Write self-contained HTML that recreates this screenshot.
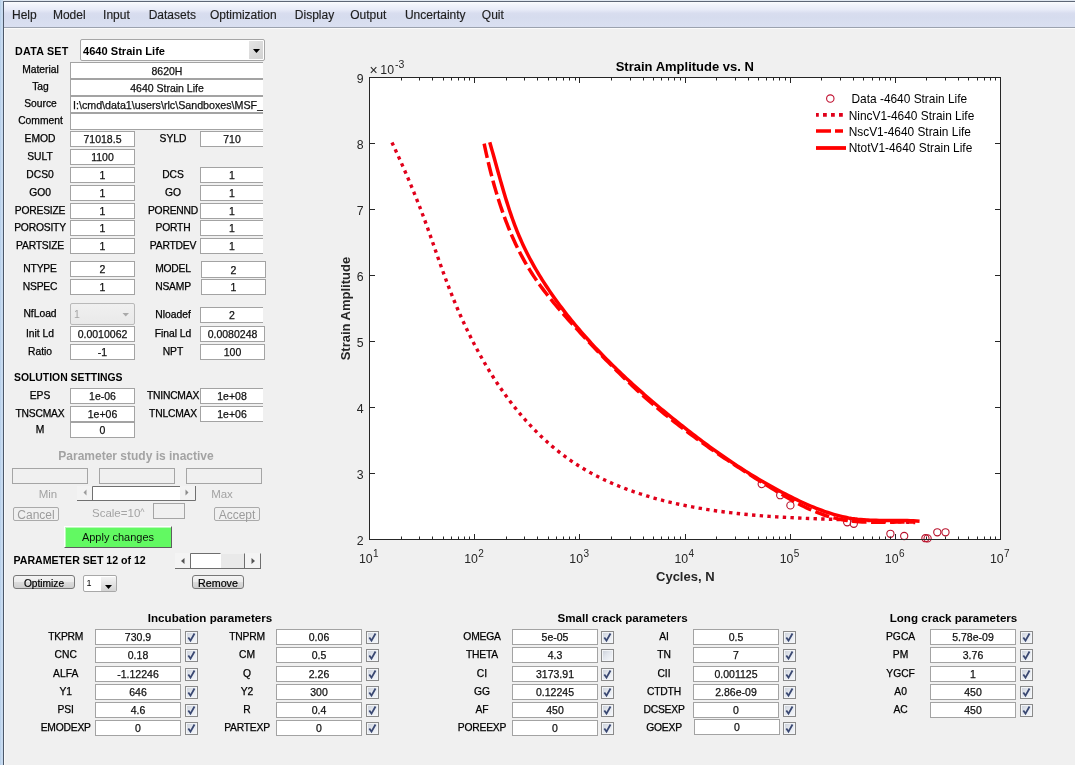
<!DOCTYPE html>
<html><head><meta charset="utf-8"><title>MSF</title>
<style>
*{margin:0;padding:0;box-sizing:border-box}
html,body{width:1075px;height:765px;overflow:hidden;background:#f0f0f0;font-family:"Liberation Sans", Arial, sans-serif;color:#000}
.ab{position:absolute}
.lb{position:absolute;text-align:center;white-space:nowrap;-webkit-text-stroke:0.25px #000}
.ed{position:absolute;background:#fff;border:1px solid #a3a3a3;white-space:nowrap;overflow:hidden;color:#111;-webkit-text-stroke:0.25px #111}
.cb{position:absolute;width:13px;height:13px;border:1px solid #8a8a8a;background:linear-gradient(135deg,#c9ced7 0%,#e3e7ee 45%,#f6f8fb 100%);box-shadow:inset 0 0 0 1px #f3f5f8}
.btn{position:absolute;border:1px solid #777;border-radius:3px;background:linear-gradient(#f4f4f4 0%,#ececec 48%,#dcdcdc 52%,#cfcfcf 100%);text-align:center;white-space:nowrap}
.gbox{position:absolute;border:1px solid #a5a5a5;background:#f0f0f0}
.gt{position:absolute;white-space:nowrap;color:#a3a3a3}
</style></head>
<body>
<svg class="ab" style="left:0;top:0" width="1075" height="765" font-family='"Liberation Sans", Arial, sans-serif'>
<rect x="369.5" y="77.5" width="631" height="462" fill="#fff"/>
<circle cx="761.7" cy="484.1" r="3.6" fill="none" stroke="#b8102a" stroke-width="1.1"/>
<circle cx="780.2" cy="495.2" r="3.6" fill="none" stroke="#b8102a" stroke-width="1.1"/>
<circle cx="790.4" cy="505.4" r="3.6" fill="none" stroke="#b8102a" stroke-width="1.1"/>
<circle cx="847.2" cy="522.3" r="3.6" fill="none" stroke="#b8102a" stroke-width="1.1"/>
<circle cx="853.8" cy="523.8" r="3.6" fill="none" stroke="#b8102a" stroke-width="1.1"/>
<circle cx="890.4" cy="533.8" r="3.6" fill="none" stroke="#b8102a" stroke-width="1.1"/>
<circle cx="904.2" cy="536.0" r="3.6" fill="none" stroke="#b8102a" stroke-width="1.1"/>
<circle cx="925.4" cy="538.2" r="3.6" fill="none" stroke="#b8102a" stroke-width="1.1"/>
<circle cx="927.6" cy="538.4" r="3.6" fill="none" stroke="#b8102a" stroke-width="1.1"/>
<circle cx="937.3" cy="532.3" r="3.6" fill="none" stroke="#b8102a" stroke-width="1.1"/>
<circle cx="945.5" cy="532.3" r="3.6" fill="none" stroke="#b8102a" stroke-width="1.1"/>
<g clip-path="url(#axclip)">
<clipPath id="axclip"><rect x="369" y="77" width="632" height="463"/></clipPath>
<path d="M391.96 142.41 L393.51 145.75 L395.06 149.09 L396.59 152.43 L398.12 155.78 L399.64 159.13 L401.14 162.49 L402.63 165.85 L404.12 169.21 L405.58 172.58 L407.04 175.96 L408.49 179.33 L409.92 182.71 L411.33 186.09 L412.73 189.47 L414.12 192.86 L415.49 196.24 L416.85 199.63 L418.19 203.02 L419.52 206.41 L420.83 209.80 L422.12 213.19 L423.39 216.58 L424.65 219.96 L425.89 223.35 L427.12 226.74 L428.33 230.13 L429.54 233.52 L430.74 236.91 L431.93 240.29 L433.11 243.68 L434.30 247.07 L435.48 250.46 L436.67 253.84 L437.85 257.23 L439.04 260.62 L440.24 264.01 L441.45 267.39 L442.67 270.78 L443.89 274.17 L445.14 277.55 L446.39 280.94 L447.67 284.33 L448.96 287.71 L450.28 291.10 L451.62 294.49 L452.98 297.87 L454.36 301.26 L455.77 304.64 L457.20 308.02 L458.66 311.39 L460.13 314.76 L461.64 318.13 L463.16 321.48 L464.72 324.83 L466.29 328.18 L467.89 331.51 L469.52 334.83 L471.17 338.15 L472.84 341.45 L474.55 344.74 L476.27 348.01 L478.03 351.27 L479.81 354.52 L481.61 357.75 L483.44 360.97 L485.30 364.17 L487.19 367.35 L489.10 370.51 L491.04 373.66 L493.01 376.78 L495.00 379.88 L497.02 382.96 L499.07 386.02 L501.15 389.05 L503.26 392.06 L505.39 395.04 L507.55 398.00 L509.75 400.93 L511.97 403.83 L514.22 406.71 L516.50 409.55 L518.81 412.37 L521.15 415.15 L523.52 417.90 L525.91 420.62 L528.34 423.31 L530.80 425.96 L533.29 428.58 L535.82 431.16 L538.37 433.71 L540.95 436.22 L543.57 438.69 L546.21 441.12 L548.89 443.51 L551.60 445.86 L554.34 448.17 L557.12 450.43 L559.92 452.66 L562.76 454.83 L565.64 456.97 L568.54 459.06 L571.48 461.10 L574.45 463.10 L577.46 465.04 L580.50 466.94 L583.57 468.80 L586.67 470.61 L589.80 472.37 L592.96 474.09 L596.15 475.76 L599.36 477.39 L602.61 478.98 L605.88 480.52 L609.17 482.02 L612.49 483.48 L615.83 484.90 L619.19 486.28 L622.58 487.63 L625.98 488.93 L629.41 490.19 L632.85 491.42 L636.32 492.61 L639.80 493.76 L643.29 494.88 L646.81 495.97 L650.33 497.02 L653.87 498.03 L657.43 499.01 L660.99 499.96 L664.57 500.88 L668.16 501.77 L671.75 502.62 L675.36 503.45 L678.97 504.24 L682.59 505.01 L686.22 505.75 L689.85 506.46 L693.49 507.14 L697.13 507.80 L700.77 508.43 L704.41 509.04 L708.06 509.62 L711.70 510.18 L715.35 510.71 L718.99 511.23 L722.63 511.72 L726.27 512.19 L729.90 512.63 L733.53 513.06 L737.16 513.47 L740.78 513.86 L744.40 514.23 L748.02 514.58 L751.63 514.92 L755.24 515.24 L758.85 515.54 L762.46 515.83 L766.07 516.10 L769.67 516.36 L773.27 516.61 L776.88 516.84 L780.48 517.07 L784.08 517.28 L787.68 517.48 L791.28 517.67 L794.88 517.85 L798.48 518.02 L802.08 518.18 L805.68 518.34 L809.29 518.49 L812.89 518.63 L816.50 518.77 L820.11 518.90 L823.72 519.03 L827.33 519.15 L830.94 519.27 L834.56 519.39 L838.18 519.51 L841.80 519.62 L845.43 519.74 L849.06 519.85 L852.69 519.97 L856.33 520.09 L859.97 520.20 L863.62 520.33 L867.27 520.45 L870.93 520.58 L874.59 520.71 L878.26 520.85 L881.93 521.00 L885.61 521.15 L889.29 521.30 L892.98 521.47 L896.68 521.64 L900.39 521.83 L904.10 522.02 L907.82 522.22 L911.54 522.43 L915.28 522.66" fill="none" stroke="#e0001a" stroke-width="3.4" stroke-dasharray="3.4 4.3"/>
<path d="M484.15 143.66 L484.77 146.62 L485.41 149.59 L486.06 152.56 L486.73 155.54 L487.41 158.52 L488.10 161.50 L488.81 164.49 L489.54 167.48 L490.28 170.47 L491.04 173.46 L491.82 176.45 L492.61 179.44 L493.42 182.42 L494.25 185.41 L495.10 188.39 L495.97 191.37 L496.85 194.35 L497.76 197.32 L498.69 200.28 L499.64 203.24 L500.62 206.19 L501.61 209.14 L502.63 212.07 L503.67 215.00 L504.74 217.92 L505.83 220.83 L506.94 223.72 L508.08 226.61 L509.25 229.48 L510.44 232.34 L511.66 235.19 L512.91 238.03 L514.18 240.84 L515.49 243.65 L516.82 246.44 L518.18 249.21 L519.57 251.96 L520.99 254.70 L522.44 257.41 L523.93 260.11 L525.44 262.79 L526.99 265.44 L528.57 268.08 L530.18 270.69 L531.82 273.28 L533.50 275.85 L535.21 278.40 L536.95 280.93 L538.72 283.44 L540.51 285.93 L542.34 288.40 L544.18 290.85 L546.06 293.29 L547.95 295.71 L549.87 298.12 L551.81 300.51 L553.76 302.89 L555.74 305.25 L557.73 307.61 L559.74 309.95 L561.76 312.28 L563.80 314.61 L565.85 316.92 L567.91 319.23 L569.99 321.53 L572.07 323.82 L574.16 326.10 L576.25 328.39 L578.35 330.66 L580.46 332.94 L582.57 335.21 L584.68 337.47 L586.80 339.74 L588.92 342.00 L591.04 344.25 L593.17 346.51 L595.30 348.75 L597.43 351.00 L599.58 353.23 L601.72 355.47 L603.87 357.69 L606.03 359.91 L608.20 362.12 L610.37 364.33 L612.54 366.53 L614.73 368.72 L616.92 370.90 L619.11 373.08 L621.32 375.24 L623.53 377.40 L625.75 379.54 L627.98 381.68 L630.22 383.81 L632.47 385.93 L634.72 388.03 L636.99 390.13 L639.26 392.21 L641.54 394.28 L643.84 396.34 L646.14 398.38 L648.46 400.42 L650.78 402.44 L653.12 404.45 L655.46 406.45 L657.82 408.43 L660.18 410.41 L662.55 412.37 L664.94 414.32 L667.33 416.26 L669.73 418.19 L672.14 420.11 L674.56 422.02 L676.98 423.91 L679.42 425.80 L681.86 427.68 L684.31 429.55 L686.77 431.40 L689.24 433.25 L691.71 435.09 L694.20 436.91 L696.69 438.73 L699.19 440.54 L701.69 442.34 L704.20 444.14 L706.72 445.92 L709.25 447.70 L711.78 449.46 L714.32 451.22 L716.86 452.97 L719.41 454.72 L721.97 456.45 L724.54 458.18 L727.11 459.90 L729.68 461.62 L732.26 463.32 L734.85 465.02 L737.44 466.72 L740.04 468.40 L742.64 470.08 L745.24 471.76 L747.85 473.43 L750.47 475.09 L753.09 476.75 L755.72 478.40 L758.34 480.04 L760.98 481.69 L763.61 483.32 L766.25 484.95 L768.90 486.58 L771.55 488.20 L774.20 489.82 L776.85 491.43 L779.51 493.03 L782.18 494.61 L784.85 496.19 L787.53 497.74 L790.22 499.27 L792.92 500.77 L795.63 502.24 L798.34 503.69 L801.07 505.10 L803.82 506.47 L806.57 507.80 L809.34 509.09 L812.13 510.33 L814.93 511.52 L817.74 512.65 L820.58 513.73 L823.43 514.75 L826.30 515.71 L829.19 516.60 L832.10 517.42 L835.03 518.17 L837.98 518.85 L840.95 519.45 L843.94 519.98 L846.95 520.45 L849.98 520.85 L853.02 521.19 L856.07 521.48 L859.14 521.72 L862.22 521.91 L865.31 522.06 L868.41 522.18 L871.52 522.25 L874.63 522.30 L877.75 522.32 L880.87 522.32 L883.99 522.30 L887.12 522.26 L890.24 522.21 L893.36 522.16 L896.48 522.10 L899.59 522.05 L902.70 522.00 L905.80 521.95 L908.89 521.93 L911.97 521.91 L915.04 521.92" fill="none" stroke="#f00" stroke-width="3.5" stroke-dasharray="14.5 4.5"/>
<path d="M489.74 142.31 L490.60 145.25 L491.44 148.19 L492.28 151.14 L493.12 154.10 L493.95 157.06 L494.78 160.02 L495.60 162.99 L496.43 165.96 L497.25 168.94 L498.08 171.91 L498.91 174.89 L499.74 177.87 L500.58 180.85 L501.43 183.82 L502.28 186.80 L503.14 189.77 L504.02 192.74 L504.91 195.71 L505.81 198.67 L506.72 201.63 L507.65 204.58 L508.60 207.53 L509.57 210.46 L510.55 213.40 L511.56 216.32 L512.59 219.23 L513.64 222.13 L514.72 225.03 L515.82 227.91 L516.95 230.78 L518.11 233.64 L519.30 236.48 L520.53 239.31 L521.78 242.13 L523.06 244.93 L524.38 247.72 L525.73 250.49 L527.10 253.25 L528.51 255.99 L529.94 258.72 L531.40 261.44 L532.89 264.14 L534.41 266.83 L535.95 269.50 L537.52 272.16 L539.11 274.81 L540.72 277.44 L542.36 280.06 L544.02 282.66 L545.71 285.25 L547.41 287.82 L549.14 290.38 L550.88 292.93 L552.65 295.46 L554.43 297.98 L556.24 300.49 L558.06 302.98 L559.90 305.46 L561.75 307.92 L563.62 310.37 L565.51 312.81 L567.41 315.23 L569.33 317.64 L571.26 320.04 L573.21 322.42 L575.17 324.79 L577.15 327.15 L579.14 329.50 L581.14 331.83 L583.16 334.15 L585.20 336.46 L587.24 338.76 L589.30 341.04 L591.38 343.31 L593.46 345.58 L595.56 347.83 L597.67 350.06 L599.80 352.29 L601.93 354.51 L604.08 356.71 L606.24 358.91 L608.41 361.09 L610.59 363.27 L612.78 365.43 L614.99 367.58 L617.20 369.73 L619.43 371.86 L621.66 373.98 L623.91 376.10 L626.16 378.20 L628.42 380.30 L630.70 382.39 L632.98 384.46 L635.27 386.53 L637.57 388.59 L639.88 390.64 L642.20 392.68 L644.53 394.72 L646.86 396.74 L649.20 398.76 L651.55 400.77 L653.91 402.77 L656.27 404.77 L658.64 406.76 L661.02 408.73 L663.40 410.71 L665.79 412.67 L668.19 414.63 L670.59 416.58 L673.00 418.53 L675.41 420.47 L677.83 422.40 L680.25 424.32 L682.68 426.24 L685.12 428.15 L687.56 430.06 L690.00 431.95 L692.46 433.84 L694.92 435.72 L697.38 437.59 L699.85 439.45 L702.33 441.30 L704.81 443.14 L707.31 444.98 L709.80 446.80 L712.31 448.61 L714.82 450.41 L717.34 452.20 L719.86 453.99 L722.39 455.75 L724.93 457.51 L727.48 459.26 L730.03 460.99 L732.60 462.71 L735.16 464.42 L737.74 466.12 L740.33 467.80 L742.92 469.47 L745.52 471.12 L748.13 472.76 L750.75 474.39 L753.37 476.00 L756.01 477.60 L758.65 479.19 L761.30 480.75 L763.96 482.31 L766.63 483.84 L769.30 485.36 L771.99 486.87 L774.68 488.36 L777.39 489.83 L780.10 491.28 L782.83 492.72 L785.56 494.14 L788.30 495.54 L791.05 496.92 L793.81 498.28 L796.58 499.63 L799.36 500.96 L802.16 502.26 L804.96 503.53 L807.77 504.78 L810.60 506.00 L813.43 507.18 L816.28 508.33 L819.14 509.44 L822.01 510.51 L824.90 511.54 L827.80 512.52 L830.71 513.45 L833.64 514.33 L836.58 515.16 L839.54 515.93 L842.51 516.64 L845.49 517.29 L848.49 517.88 L851.51 518.40 L854.54 518.85 L857.59 519.23 L860.65 519.54 L863.73 519.80 L866.82 520.01 L869.92 520.16 L873.02 520.28 L876.13 520.36 L879.25 520.41 L882.37 520.44 L885.50 520.46 L888.62 520.46 L891.75 520.45 L894.87 520.45 L897.99 520.45 L901.10 520.47 L904.20 520.50 L907.30 520.56 L910.38 520.64 L913.46 520.77 L916.52 520.93 L919.56 521.15" fill="none" stroke="#f00" stroke-width="3.5"/>
</g>
<path d="M369.5 539 v-5 M369.5 78 v5 M401.5 539 v-2.5 M401.5 78 v2.5 M419.5 539 v-2.5 M419.5 78 v2.5 M432.5 539 v-2.5 M432.5 78 v2.5 M443.5 539 v-2.5 M443.5 78 v2.5 M451.5 539 v-2.5 M451.5 78 v2.5 M458.5 539 v-2.5 M458.5 78 v2.5 M464.5 539 v-2.5 M464.5 78 v2.5 M469.5 539 v-2.5 M469.5 78 v2.5 M474.5 539 v-5 M474.5 78 v5 M506.5 539 v-2.5 M506.5 78 v2.5 M524.5 539 v-2.5 M524.5 78 v2.5 M537.5 539 v-2.5 M537.5 78 v2.5 M548.5 539 v-2.5 M548.5 78 v2.5 M556.5 539 v-2.5 M556.5 78 v2.5 M563.5 539 v-2.5 M563.5 78 v2.5 M569.5 539 v-2.5 M569.5 78 v2.5 M575.5 539 v-2.5 M575.5 78 v2.5 M579.5 539 v-5 M579.5 78 v5 M611.5 539 v-2.5 M611.5 78 v2.5 M630.5 539 v-2.5 M630.5 78 v2.5 M643.5 539 v-2.5 M643.5 78 v2.5 M653.5 539 v-2.5 M653.5 78 v2.5 M661.5 539 v-2.5 M661.5 78 v2.5 M668.5 539 v-2.5 M668.5 78 v2.5 M674.5 539 v-2.5 M674.5 78 v2.5 M680.5 539 v-2.5 M680.5 78 v2.5 M685.5 539 v-5 M685.5 78 v5 M716.5 539 v-2.5 M716.5 78 v2.5 M735.5 539 v-2.5 M735.5 78 v2.5 M748.5 539 v-2.5 M748.5 78 v2.5 M758.5 539 v-2.5 M758.5 78 v2.5 M766.5 539 v-2.5 M766.5 78 v2.5 M773.5 539 v-2.5 M773.5 78 v2.5 M779.5 539 v-2.5 M779.5 78 v2.5 M785.5 539 v-2.5 M785.5 78 v2.5 M790.5 539 v-5 M790.5 78 v5 M821.5 539 v-2.5 M821.5 78 v2.5 M840.5 539 v-2.5 M840.5 78 v2.5 M853.5 539 v-2.5 M853.5 78 v2.5 M863.5 539 v-2.5 M863.5 78 v2.5 M872.5 539 v-2.5 M872.5 78 v2.5 M879.5 539 v-2.5 M879.5 78 v2.5 M885.5 539 v-2.5 M885.5 78 v2.5 M890.5 539 v-2.5 M890.5 78 v2.5 M895.5 539 v-5 M895.5 78 v5 M926.5 539 v-2.5 M926.5 78 v2.5 M945.5 539 v-2.5 M945.5 78 v2.5 M958.5 539 v-2.5 M958.5 78 v2.5 M968.5 539 v-2.5 M968.5 78 v2.5 M977.5 539 v-2.5 M977.5 78 v2.5 M984.5 539 v-2.5 M984.5 78 v2.5 M990.5 539 v-2.5 M990.5 78 v2.5 M995.5 539 v-2.5 M995.5 78 v2.5 M1000.5 539 v-5 M1000.5 78 v5 M370 539.5 h5 M1000 539.5 h-5 M370 473.5 h5 M1000 473.5 h-5 M370 407.5 h5 M1000 407.5 h-5 M370 341.5 h5 M1000 341.5 h-5 M370 275.5 h5 M1000 275.5 h-5 M370 209.5 h5 M1000 209.5 h-5 M370 143.5 h5 M1000 143.5 h-5 M370 77.5 h5 M1000 77.5 h-5" stroke="#262626" stroke-width="1" fill="none"/>
<rect x="369.5" y="77.5" width="631" height="462" fill="none" stroke="#262626" stroke-width="1"/>
<text x="363.5" y="544.8" font-size="12.3" fill="#262626" text-anchor="end">2</text>
<text x="363.5" y="478.8" font-size="12.3" fill="#262626" text-anchor="end">3</text>
<text x="363.5" y="412.8" font-size="12.3" fill="#262626" text-anchor="end">4</text>
<text x="363.5" y="346.8" font-size="12.3" fill="#262626" text-anchor="end">5</text>
<text x="363.5" y="280.8" font-size="12.3" fill="#262626" text-anchor="end">6</text>
<text x="363.5" y="214.8" font-size="12.3" fill="#262626" text-anchor="end">7</text>
<text x="363.5" y="148.8" font-size="12.3" fill="#262626" text-anchor="end">8</text>
<text x="363.5" y="82.8" font-size="12.3" fill="#262626" text-anchor="end">9</text>
<text x="359.0" y="562.6" font-size="12.3" fill="#262626">10<tspan dy="-6.0" dx="0.4" font-size="10">1</tspan></text>
<text x="464.2" y="562.6" font-size="12.3" fill="#262626">10<tspan dy="-6.0" dx="0.4" font-size="10">2</tspan></text>
<text x="569.3" y="562.6" font-size="12.3" fill="#262626">10<tspan dy="-6.0" dx="0.4" font-size="10">3</tspan></text>
<text x="674.5" y="562.6" font-size="12.3" fill="#262626">10<tspan dy="-6.0" dx="0.4" font-size="10">4</tspan></text>
<text x="779.7" y="562.6" font-size="12.3" fill="#262626">10<tspan dy="-6.0" dx="0.4" font-size="10">5</tspan></text>
<text x="884.8" y="562.6" font-size="12.3" fill="#262626">10<tspan dy="-6.0" dx="0.4" font-size="10">6</tspan></text>
<text x="990.0" y="562.6" font-size="12.3" fill="#262626">10<tspan dy="-6.0" dx="0.4" font-size="10">7</tspan></text>
<text x="369.6" y="75.2" font-size="14" fill="#262626">&#215;</text>
<text x="380.3" y="74.4" font-size="12.3" fill="#262626">10</text>
<text x="395" y="68.2" font-size="10.5" fill="#262626">-3</text>
<text x="684.8" y="71" font-size="13" font-weight="bold" fill="#000" text-anchor="middle">Strain Amplitude vs. N</text>
<text x="685.3" y="581.4" font-size="13" font-weight="bold" fill="#262626" text-anchor="middle">Cycles, N</text>
<text transform="translate(349.6 308.6) rotate(-90)" x="0" y="0" font-size="13" font-weight="bold" fill="#262626" text-anchor="middle">Strain Amplitude</text>
<circle cx="830.3" cy="98.6" r="3.7" fill="none" stroke="#c01030" stroke-width="1.1"/>
<path d="M816 114.9 H844" stroke="#e0001a" stroke-width="3.6" stroke-dasharray="3.8 4.2" stroke-dashoffset="1" fill="none"/>
<path d="M816 131 H843" stroke="#f00" stroke-width="3.6" stroke-dasharray="15 4" fill="none"/>
<path d="M816 148 H846" stroke="#f00" stroke-width="3.8" fill="none"/>
<text x="848.7" y="119.6" font-size="11.9" fill="#000">NincV1-4640 Strain Life</text>
<text x="848.7" y="136.0" font-size="11.9" fill="#000">NscV1-4640 Strain Life</text>
<text x="848.7" y="152.4" font-size="11.9" fill="#000">NtotV1-4640 Strain Life</text>
<text x="851.5" y="102.8" font-size="11.9" fill="#000">Data -4640 Strain Life</text>
</svg>
<div class="ab" style="left:0;top:0;width:3px;height:765px;background:linear-gradient(90deg,#b4cde8,#cfe0f3 70%,#bcd3ec)"></div>
<div class="ab" style="left:3px;top:0;width:1px;height:765px;background:#4d5868"></div>
<div class="ab" style="left:4px;top:28px;width:1px;height:737px;background:#f9f9f9"></div>
<div class="ab" style="left:3px;top:0;width:1072px;height:1px;background:#dfe6ef"></div>
<div class="ab" style="left:3px;top:1px;width:1072px;height:1px;background:#5d6676"></div>
<div class="ab" style="left:4px;top:2px;width:1071px;height:25px;background:linear-gradient(#fbfcfe 0%,#f1f3fb 12%,#e8ebf8 30%,#d8ddef 45%,#d6dcee 60%,#dae0f1 100%)"></div>
<div class="ab" style="left:4px;top:27px;width:1071px;height:1px;background:#9ba2ae"></div>
<div class="ab" style="left:4px;top:28px;width:1071px;height:1px;background:#fbfbfb"></div>
<div class="ab" style="left:12.0px;top:6px;font-size:12px;line-height:18px;color:#1e1e1e;white-space:nowrap;-webkit-text-stroke:0.15px #1e1e1e">Help</div>
<div class="ab" style="left:52.9px;top:6px;font-size:12px;line-height:18px;color:#1e1e1e;white-space:nowrap;-webkit-text-stroke:0.15px #1e1e1e">Model</div>
<div class="ab" style="left:103.1px;top:6px;font-size:12px;line-height:18px;color:#1e1e1e;white-space:nowrap;-webkit-text-stroke:0.15px #1e1e1e">Input</div>
<div class="ab" style="left:148.7px;top:6px;font-size:12px;line-height:18px;color:#1e1e1e;white-space:nowrap;-webkit-text-stroke:0.15px #1e1e1e">Datasets</div>
<div class="ab" style="left:209.9px;top:6px;font-size:12px;line-height:18px;color:#1e1e1e;white-space:nowrap;-webkit-text-stroke:0.15px #1e1e1e">Optimization</div>
<div class="ab" style="left:294.8px;top:6px;font-size:12px;line-height:18px;color:#1e1e1e;white-space:nowrap;-webkit-text-stroke:0.15px #1e1e1e">Display</div>
<div class="ab" style="left:350.2px;top:6px;font-size:12px;line-height:18px;color:#1e1e1e;white-space:nowrap;-webkit-text-stroke:0.15px #1e1e1e">Output</div>
<div class="ab" style="left:404.9px;top:6px;font-size:12px;line-height:18px;color:#1e1e1e;white-space:nowrap;-webkit-text-stroke:0.15px #1e1e1e">Uncertainty</div>
<div class="ab" style="left:481.8px;top:6px;font-size:12px;line-height:18px;color:#1e1e1e;white-space:nowrap;-webkit-text-stroke:0.15px #1e1e1e">Quit</div>
<div class="ab" style="left:15px;top:44px;font-size:10.7px;font-weight:bold;line-height:14px;white-space:nowrap;letter-spacing:0.25px">DATA SET</div>
<div class="ab" style="left:80px;top:39px;width:185px;height:22px;border:1px solid #a6a6a6;border-radius:2px;background:#fff"></div>
<div class="ab" style="left:249px;top:41px;width:14px;height:18px;background:linear-gradient(135deg,#e4e4e4,#d2d2d2)"></div>
<svg class="ab" style="left:249px;top:41px" width="14" height="18"><path d="M4 8 L11 8 L7.5 12 Z" fill="#000"/></svg>
<div class="ab" style="left:83px;top:43.7px;font-size:11.1px;font-weight:bold;line-height:14px;white-space:nowrap">4640 Strain Life</div>
<div class="lb" style="left:-4.5px;top:61.5px;width:90px;height:16px;line-height:16px;font-size:10.3px;font-weight:normal;color:#000;">Material</div>
<div class="ed" style="left:70px;top:62px;width:193px;height:17px;line-height:16.2px;font-size:10.5px;text-align:center;border-right:none;">8620H</div>
<div class="lb" style="left:-4.5px;top:78.5px;width:90px;height:16px;line-height:16px;font-size:10.3px;font-weight:normal;color:#000;">Tag</div>
<div class="ed" style="left:70px;top:79px;width:193px;height:17px;line-height:16.2px;font-size:10.5px;text-align:center;border-right:none;">4640 Strain Life</div>
<div class="lb" style="left:-4.5px;top:95.5px;width:90px;height:16px;line-height:16px;font-size:10.3px;font-weight:normal;color:#000;">Source</div>
<div class="ed" style="left:70px;top:96px;width:193px;height:17px;line-height:16.2px;font-size:10.7px;text-align:left;border-right:none;padding-left:2px;">I:\cmd\data1\users\rlc\Sandboxes\MSF_</div>
<div class="lb" style="left:-4.5px;top:112.5px;width:90px;height:16px;line-height:16px;font-size:10.3px;font-weight:normal;color:#000;">Comment</div>
<div class="ed" style="left:70px;top:113px;width:193px;height:17px;line-height:16.2px;font-size:10.5px;text-align:center;border-right:none;"></div>
<div class="lb" style="left:-5.0px;top:130.5px;width:90px;height:16px;line-height:16px;font-size:10.3px;font-weight:normal;color:#000;">EMOD</div>
<div class="ed" style="left:70px;top:131px;width:65px;height:16px;line-height:14px;font-size:10.5px;text-align:center;">71018.5</div>
<div class="lb" style="left:128.0px;top:130.5px;width:90px;height:16px;line-height:16px;font-size:10.3px;font-weight:normal;color:#000;">SYLD</div>
<div class="ed" style="left:200px;top:131px;width:63px;height:16px;line-height:14px;font-size:10.5px;text-align:center;border-right:none;">710</div>
<div class="lb" style="left:-5.0px;top:148.5px;width:90px;height:16px;line-height:16px;font-size:10.3px;font-weight:normal;color:#000;">SULT</div>
<div class="ed" style="left:70px;top:149px;width:65px;height:16px;line-height:14px;font-size:10.5px;text-align:center;">1100</div>
<div class="lb" style="left:-5.0px;top:166.5px;width:90px;height:16px;line-height:16px;font-size:10.3px;font-weight:normal;color:#000;">DCS0</div>
<div class="ed" style="left:70px;top:167px;width:65px;height:16px;line-height:14px;font-size:10.5px;text-align:center;">1</div>
<div class="lb" style="left:128.0px;top:166.5px;width:90px;height:16px;line-height:16px;font-size:10.3px;font-weight:normal;color:#000;">DCS</div>
<div class="ed" style="left:200px;top:167px;width:63px;height:16px;line-height:14px;font-size:10.5px;text-align:center;border-right:none;">1</div>
<div class="lb" style="left:-5.0px;top:184.5px;width:90px;height:16px;line-height:16px;font-size:10.3px;font-weight:normal;color:#000;">GO0</div>
<div class="ed" style="left:70px;top:185px;width:65px;height:16px;line-height:14px;font-size:10.5px;text-align:center;">1</div>
<div class="lb" style="left:128.0px;top:184.5px;width:90px;height:16px;line-height:16px;font-size:10.3px;font-weight:normal;color:#000;">GO</div>
<div class="ed" style="left:200px;top:185px;width:63px;height:16px;line-height:14px;font-size:10.5px;text-align:center;border-right:none;">1</div>
<div class="lb" style="left:-5.0px;top:202.5px;width:90px;height:16px;line-height:16px;font-size:10.3px;font-weight:normal;color:#000;letter-spacing:-0.2px;">PORESIZE</div>
<div class="ed" style="left:70px;top:203px;width:65px;height:16px;line-height:14px;font-size:10.5px;text-align:center;">1</div>
<div class="lb" style="left:128.0px;top:202.5px;width:90px;height:16px;line-height:16px;font-size:10.3px;font-weight:normal;color:#000;letter-spacing:-0.2px;">PORENND</div>
<div class="ed" style="left:200px;top:203px;width:63px;height:16px;line-height:14px;font-size:10.5px;text-align:center;border-right:none;">1</div>
<div class="lb" style="left:-5.0px;top:219.5px;width:90px;height:16px;line-height:16px;font-size:10.3px;font-weight:normal;color:#000;letter-spacing:-0.2px;">POROSITY</div>
<div class="ed" style="left:70px;top:220px;width:65px;height:16px;line-height:14px;font-size:10.5px;text-align:center;">1</div>
<div class="lb" style="left:128.0px;top:219.5px;width:90px;height:16px;line-height:16px;font-size:10.3px;font-weight:normal;color:#000;letter-spacing:-0.2px;">PORTH</div>
<div class="ed" style="left:200px;top:220px;width:63px;height:16px;line-height:14px;font-size:10.5px;text-align:center;border-right:none;">1</div>
<div class="lb" style="left:-5.0px;top:237.5px;width:90px;height:16px;line-height:16px;font-size:10.3px;font-weight:normal;color:#000;letter-spacing:-0.2px;">PARTSIZE</div>
<div class="ed" style="left:70px;top:238px;width:65px;height:16px;line-height:14px;font-size:10.5px;text-align:center;">1</div>
<div class="lb" style="left:128.0px;top:237.5px;width:90px;height:16px;line-height:16px;font-size:10.3px;font-weight:normal;color:#000;letter-spacing:-0.2px;">PARTDEV</div>
<div class="ed" style="left:200px;top:238px;width:63px;height:16px;line-height:14px;font-size:10.5px;text-align:center;border-right:none;">1</div>
<div class="lb" style="left:-5.0px;top:260.5px;width:90px;height:16px;line-height:16px;font-size:10.3px;font-weight:normal;color:#000;letter-spacing:-0.2px;">NTYPE</div>
<div class="ed" style="left:70px;top:261px;width:65px;height:16px;line-height:14px;font-size:10.5px;text-align:center;">2</div>
<div class="lb" style="left:-5.0px;top:278.5px;width:90px;height:16px;line-height:16px;font-size:10.3px;font-weight:normal;color:#000;letter-spacing:-0.2px;">NSPEC</div>
<div class="ed" style="left:70px;top:279px;width:65px;height:16px;line-height:14px;font-size:10.5px;text-align:center;">1</div>
<div class="lb" style="left:128.0px;top:260.5px;width:90px;height:16px;line-height:16px;font-size:10.3px;font-weight:normal;color:#000;letter-spacing:-0.2px;">MODEL</div>
<div class="ed" style="left:201px;top:261px;width:65px;height:17px;line-height:16.2px;font-size:10.5px;text-align:center;">2</div>
<div class="lb" style="left:128.0px;top:278.5px;width:90px;height:16px;line-height:16px;font-size:10.3px;font-weight:normal;color:#000;letter-spacing:-0.2px;">NSAMP</div>
<div class="ed" style="left:201px;top:279px;width:65px;height:16px;line-height:14px;font-size:10.5px;text-align:center;">1</div>
<div class="lb" style="left:-5.0px;top:305.5px;width:90px;height:16px;line-height:16px;font-size:10.3px;font-weight:normal;color:#000;">NfLoad</div>
<div class="ab" style="left:70px;top:303px;width:65px;height:22px;border:1px solid #b9b9b9;border-radius:2px;background:linear-gradient(#f0f0f0,#e9e9e9)"></div>
<div class="ab" style="left:74px;top:307px;font-size:10.5px;line-height:14px;color:#a5a5a5">1</div>
<svg class="ab" style="left:118px;top:305px" width="14" height="18"><path d="M4.5 8 L11 8 L7.75 11.5 Z" fill="#a9a9a9"/></svg>
<div class="lb" style="left:128.0px;top:306.5px;width:90px;height:16px;line-height:16px;font-size:10.3px;font-weight:normal;color:#000;">Nloadef</div>
<div class="ed" style="left:200px;top:307px;width:63px;height:16px;line-height:14px;font-size:10.5px;text-align:center;border-right:none;">2</div>
<div class="lb" style="left:-5.0px;top:325.5px;width:90px;height:16px;line-height:16px;font-size:10.3px;font-weight:normal;color:#000;">Init Ld</div>
<div class="ed" style="left:70px;top:326px;width:65px;height:16px;line-height:14px;font-size:10.5px;text-align:center;">0.0010062</div>
<div class="lb" style="left:-5.0px;top:343.5px;width:90px;height:16px;line-height:16px;font-size:10.3px;font-weight:normal;color:#000;">Ratio</div>
<div class="ed" style="left:70px;top:344px;width:65px;height:16px;line-height:14px;font-size:10.5px;text-align:center;">-1</div>
<div class="lb" style="left:128.0px;top:325.5px;width:90px;height:16px;line-height:16px;font-size:10.3px;font-weight:normal;color:#000;">Final Ld</div>
<div class="ed" style="left:200px;top:326px;width:65px;height:16px;line-height:14px;font-size:10.5px;text-align:center;">0.0080248</div>
<div class="lb" style="left:128.0px;top:343.5px;width:90px;height:16px;line-height:16px;font-size:10.3px;font-weight:normal;color:#000;">NPT</div>
<div class="ed" style="left:200px;top:344px;width:65px;height:16px;line-height:14px;font-size:10.5px;text-align:center;">100</div>
<div class="ab" style="left:14px;top:371px;font-size:10.4px;font-weight:bold;line-height:14px;white-space:nowrap">SOLUTION SETTINGS</div>
<div class="lb" style="left:-5.0px;top:387.5px;width:90px;height:16px;line-height:16px;font-size:10.3px;font-weight:normal;color:#000;">EPS</div>
<div class="ed" style="left:70px;top:388px;width:65px;height:16px;line-height:14px;font-size:10.5px;text-align:center;">1e-06</div>
<div class="lb" style="left:-5.0px;top:405.5px;width:90px;height:16px;line-height:16px;font-size:10.3px;font-weight:normal;color:#000;letter-spacing:-0.2px;">TNSCMAX</div>
<div class="ed" style="left:70px;top:406px;width:65px;height:16px;line-height:14px;font-size:10.5px;text-align:center;">1e+06</div>
<div class="lb" style="left:-5.0px;top:421.5px;width:90px;height:16px;line-height:16px;font-size:10.3px;font-weight:normal;color:#000;">M</div>
<div class="ed" style="left:70px;top:422px;width:65px;height:16px;line-height:14px;font-size:10.5px;text-align:center;">0</div>
<div class="lb" style="left:128.0px;top:387.5px;width:90px;height:16px;line-height:16px;font-size:10.3px;font-weight:normal;color:#000;letter-spacing:-0.2px;">TNINCMAX</div>
<div class="ed" style="left:200px;top:388px;width:63px;height:16px;line-height:14px;font-size:10.5px;text-align:center;border-right:none;">1e+08</div>
<div class="lb" style="left:128.0px;top:405.5px;width:90px;height:16px;line-height:16px;font-size:10.3px;font-weight:normal;color:#000;letter-spacing:-0.2px;">TNLCMAX</div>
<div class="ed" style="left:200px;top:406px;width:63px;height:16px;line-height:14px;font-size:10.5px;text-align:center;border-right:none;">1e+06</div>
<div class="gt" style="left:36px;top:449px;width:200px;text-align:center;font-size:12px;font-weight:bold;line-height:14px">Parameter study is inactive</div>
<div class="gbox" style="left:12px;top:468px;width:76px;height:16px"></div>
<div class="gbox" style="left:99px;top:468px;width:76px;height:16px"></div>
<div class="gbox" style="left:186px;top:468px;width:76px;height:16px"></div>
<div class="gt" style="left:28px;top:487px;width:40px;text-align:center;font-size:11.5px;line-height:14px">Min</div>
<div class="gt" style="left:202px;top:487px;width:40px;text-align:center;font-size:11.5px;line-height:14px">Max</div>
<svg class="ab" style="left:77px;top:486px" width="120" height="16">
<rect x="0" y="0" width="15" height="15" fill="#f3f3f3"/>
<rect x="15" y="0.5" width="88" height="14" fill="#fff"/>
<rect x="103" y="0" width="15" height="15" fill="#f3f3f3"/>
<path d="M15.5 15 V0.5 H103" fill="none" stroke="#707070" stroke-width="1"/>
<path d="M0 14.5 H118.5 V0" fill="none" stroke="#707070" stroke-width="1"/>
<path d="M9.5 3.5 V9.5 L6.5 6.5 Z" fill="#9a9a9a"/>
<path d="M108.5 3.5 V9.5 L111.5 6.5 Z" fill="#8a8a8a"/>
</svg>
<div class="ab" style="left:13px;top:507px;width:46px;height:14px;border:1px solid #aaa;border-radius:2px;font-size:12px;line-height:14px;text-align:center;color:#9c9c9c">Cancel</div>
<div class="ab" style="left:214px;top:507px;width:46px;height:14px;border:1px solid #aaa;border-radius:2px;font-size:12px;line-height:14px;text-align:center;color:#9c9c9c">Accept</div>
<div class="gt" style="left:92px;top:504.8px;font-size:11.5px;line-height:14px">Scale=10<span style="font-size:9px;vertical-align:2px">^</span></div>
<div class="gbox" style="left:153px;top:503px;width:32px;height:16px"></div>
<div class="ab" style="left:64px;top:526px;width:108px;height:22px;background:#62f962;box-shadow:inset 1px 1px 0 #b8fbb8;border-top:1px solid #fff;border-left:1px solid #fff;border-bottom:1px solid #5e5e5e;border-right:1px solid #5e5e5e;font-size:11px;line-height:20px;text-align:center;color:#0a160a">Apply changes</div>
<div class="ab" style="left:13.5px;top:553px;font-size:10.6px;font-weight:bold;line-height:14px;white-space:nowrap">PARAMETER SET 12 of 12</div>
<svg class="ab" style="left:175px;top:553px" width="87" height="17">
<rect x="0" y="0" width="15" height="15.5" fill="#f4f4f4"/>
<rect x="15.5" y="1" width="30.5" height="14.5" fill="#fff"/>
<rect x="46" y="1" width="23" height="14.5" fill="#e9e9e9"/>
<rect x="70" y="0" width="15" height="15.5" fill="#f4f4f4"/>
<path d="M15.5 15.5 V0.5 H45.5" fill="none" stroke="#6e6e6e" stroke-width="1"/>
<path d="M69.5 15.5 V0.5" fill="none" stroke="#6e6e6e" stroke-width="1"/>
<path d="M85.5 15.5 V0.5" fill="none" stroke="#6e6e6e" stroke-width="1"/>
<path d="M0 15.5 H86" fill="none" stroke="#6e6e6e" stroke-width="1"/>
<path d="M9.5 5 V11 L6 8 Z" fill="#555"/>
<path d="M76.5 5 V11 L80 8 Z" fill="#555"/>
</svg>
<div class="btn" style="left:13px;top:575px;width:62px;height:14px;font-size:10.2px;line-height:15px;-webkit-text-stroke:0.2px #000">Optimize</div>
<div class="btn" style="left:192px;top:575px;width:52px;height:14px;font-size:10.7px;line-height:15px;-webkit-text-stroke:0.2px #000">Remove</div>
<div class="ab" style="left:83px;top:575px;width:34px;height:17px;border:1px solid #a8a8a8;border-radius:2px;background:#fff"></div>
<div class="ab" style="left:101px;top:577px;width:15px;height:14px;background:linear-gradient(#f3f3f3,#d4d4d4)"></div>
<svg class="ab" style="left:101px;top:577px" width="15" height="14"><path d="M4 8 L11 8 L7.5 12 Z" fill="#000"/></svg>
<div class="ab" style="left:86.5px;top:577px;font-size:9px;line-height:12px">1</div>
<div class="ab" style="left:110px;top:611px;width:200px;text-align:center;font-size:11.6px;font-weight:bold;line-height:14px">Incubation parameters</div>
<div class="lb" style="left:20.7px;top:628.5px;width:90px;height:16px;line-height:16px;font-size:10.3px;font-weight:normal;color:#000;letter-spacing:-0.2px;">TKPRM</div>
<div class="ed" style="left:95px;top:629px;width:86px;height:16px;line-height:14px;font-size:10.5px;text-align:center;">730.9</div>
<div class="cb" style="left:185px;top:631px"><svg width="13" height="13" viewBox="0 0 13 13" style="position:absolute;left:0;top:0"><path d="M2.3 5.5 L4.5 8.6 L8.5 1.5" fill="none" stroke="#3a4872" stroke-width="1.8" stroke-linejoin="miter" stroke-linecap="butt"/></svg></div>
<div class="lb" style="left:20.7px;top:646.5px;width:90px;height:16px;line-height:16px;font-size:10.3px;font-weight:normal;color:#000;">CNC</div>
<div class="ed" style="left:95px;top:647px;width:86px;height:16px;line-height:14px;font-size:10.5px;text-align:center;">0.18</div>
<div class="cb" style="left:185px;top:649px"><svg width="13" height="13" viewBox="0 0 13 13" style="position:absolute;left:0;top:0"><path d="M2.3 5.5 L4.5 8.6 L8.5 1.5" fill="none" stroke="#3a4872" stroke-width="1.8" stroke-linejoin="miter" stroke-linecap="butt"/></svg></div>
<div class="lb" style="left:20.7px;top:665.5px;width:90px;height:16px;line-height:16px;font-size:10.3px;font-weight:normal;color:#000;">ALFA</div>
<div class="ed" style="left:95px;top:666px;width:86px;height:16px;line-height:14px;font-size:10.5px;text-align:center;">-1.12246</div>
<div class="cb" style="left:185px;top:668px"><svg width="13" height="13" viewBox="0 0 13 13" style="position:absolute;left:0;top:0"><path d="M2.3 5.5 L4.5 8.6 L8.5 1.5" fill="none" stroke="#3a4872" stroke-width="1.8" stroke-linejoin="miter" stroke-linecap="butt"/></svg></div>
<div class="lb" style="left:20.7px;top:683.5px;width:90px;height:16px;line-height:16px;font-size:10.3px;font-weight:normal;color:#000;">Y1</div>
<div class="ed" style="left:95px;top:684px;width:86px;height:16px;line-height:14px;font-size:10.5px;text-align:center;">646</div>
<div class="cb" style="left:185px;top:686px"><svg width="13" height="13" viewBox="0 0 13 13" style="position:absolute;left:0;top:0"><path d="M2.3 5.5 L4.5 8.6 L8.5 1.5" fill="none" stroke="#3a4872" stroke-width="1.8" stroke-linejoin="miter" stroke-linecap="butt"/></svg></div>
<div class="lb" style="left:20.7px;top:701.5px;width:90px;height:16px;line-height:16px;font-size:10.3px;font-weight:normal;color:#000;">PSI</div>
<div class="ed" style="left:95px;top:702px;width:86px;height:16px;line-height:14px;font-size:10.5px;text-align:center;">4.6</div>
<div class="cb" style="left:185px;top:704px"><svg width="13" height="13" viewBox="0 0 13 13" style="position:absolute;left:0;top:0"><path d="M2.3 5.5 L4.5 8.6 L8.5 1.5" fill="none" stroke="#3a4872" stroke-width="1.8" stroke-linejoin="miter" stroke-linecap="butt"/></svg></div>
<div class="lb" style="left:20.7px;top:719.5px;width:90px;height:16px;line-height:16px;font-size:10.3px;font-weight:normal;color:#000;letter-spacing:-0.2px;">EMODEXP</div>
<div class="ed" style="left:95px;top:720px;width:86px;height:16px;line-height:14px;font-size:10.5px;text-align:center;">0</div>
<div class="cb" style="left:185px;top:722px"><svg width="13" height="13" viewBox="0 0 13 13" style="position:absolute;left:0;top:0"><path d="M2.3 5.5 L4.5 8.6 L8.5 1.5" fill="none" stroke="#3a4872" stroke-width="1.8" stroke-linejoin="miter" stroke-linecap="butt"/></svg></div>
<div class="lb" style="left:202.0px;top:628.5px;width:90px;height:16px;line-height:16px;font-size:10.3px;font-weight:normal;color:#000;letter-spacing:-0.2px;">TNPRM</div>
<div class="ed" style="left:276px;top:629px;width:86px;height:16px;line-height:14px;font-size:10.5px;text-align:center;">0.06</div>
<div class="cb" style="left:366px;top:631px"><svg width="13" height="13" viewBox="0 0 13 13" style="position:absolute;left:0;top:0"><path d="M2.3 5.5 L4.5 8.6 L8.5 1.5" fill="none" stroke="#3a4872" stroke-width="1.8" stroke-linejoin="miter" stroke-linecap="butt"/></svg></div>
<div class="lb" style="left:202.0px;top:646.5px;width:90px;height:16px;line-height:16px;font-size:10.3px;font-weight:normal;color:#000;">CM</div>
<div class="ed" style="left:276px;top:647px;width:86px;height:16px;line-height:14px;font-size:10.5px;text-align:center;">0.5</div>
<div class="cb" style="left:366px;top:649px"><svg width="13" height="13" viewBox="0 0 13 13" style="position:absolute;left:0;top:0"><path d="M2.3 5.5 L4.5 8.6 L8.5 1.5" fill="none" stroke="#3a4872" stroke-width="1.8" stroke-linejoin="miter" stroke-linecap="butt"/></svg></div>
<div class="lb" style="left:202.0px;top:665.5px;width:90px;height:16px;line-height:16px;font-size:10.3px;font-weight:normal;color:#000;">Q</div>
<div class="ed" style="left:276px;top:666px;width:86px;height:16px;line-height:14px;font-size:10.5px;text-align:center;">2.26</div>
<div class="cb" style="left:366px;top:668px"><svg width="13" height="13" viewBox="0 0 13 13" style="position:absolute;left:0;top:0"><path d="M2.3 5.5 L4.5 8.6 L8.5 1.5" fill="none" stroke="#3a4872" stroke-width="1.8" stroke-linejoin="miter" stroke-linecap="butt"/></svg></div>
<div class="lb" style="left:202.0px;top:683.5px;width:90px;height:16px;line-height:16px;font-size:10.3px;font-weight:normal;color:#000;">Y2</div>
<div class="ed" style="left:276px;top:684px;width:86px;height:16px;line-height:14px;font-size:10.5px;text-align:center;">300</div>
<div class="cb" style="left:366px;top:686px"><svg width="13" height="13" viewBox="0 0 13 13" style="position:absolute;left:0;top:0"><path d="M2.3 5.5 L4.5 8.6 L8.5 1.5" fill="none" stroke="#3a4872" stroke-width="1.8" stroke-linejoin="miter" stroke-linecap="butt"/></svg></div>
<div class="lb" style="left:202.0px;top:701.5px;width:90px;height:16px;line-height:16px;font-size:10.3px;font-weight:normal;color:#000;">R</div>
<div class="ed" style="left:276px;top:702px;width:86px;height:16px;line-height:14px;font-size:10.5px;text-align:center;">0.4</div>
<div class="cb" style="left:366px;top:704px"><svg width="13" height="13" viewBox="0 0 13 13" style="position:absolute;left:0;top:0"><path d="M2.3 5.5 L4.5 8.6 L8.5 1.5" fill="none" stroke="#3a4872" stroke-width="1.8" stroke-linejoin="miter" stroke-linecap="butt"/></svg></div>
<div class="lb" style="left:202.0px;top:719.5px;width:90px;height:16px;line-height:16px;font-size:10.3px;font-weight:normal;color:#000;letter-spacing:-0.2px;">PARTEXP</div>
<div class="ed" style="left:276px;top:720px;width:86px;height:16px;line-height:14px;font-size:10.5px;text-align:center;">0</div>
<div class="cb" style="left:366px;top:722px"><svg width="13" height="13" viewBox="0 0 13 13" style="position:absolute;left:0;top:0"><path d="M2.3 5.5 L4.5 8.6 L8.5 1.5" fill="none" stroke="#3a4872" stroke-width="1.8" stroke-linejoin="miter" stroke-linecap="butt"/></svg></div>
<div class="ab" style="left:522.7px;top:611px;width:200px;text-align:center;font-size:11.6px;font-weight:bold;line-height:14px">Small crack parameters</div>
<div class="lb" style="left:437.0px;top:628.5px;width:90px;height:16px;line-height:16px;font-size:10.3px;font-weight:normal;color:#000;letter-spacing:-0.2px;">OMEGA</div>
<div class="ed" style="left:512px;top:629px;width:86px;height:16px;line-height:14px;font-size:10.5px;text-align:center;">5e-05</div>
<div class="cb" style="left:601px;top:631px"><svg width="13" height="13" viewBox="0 0 13 13" style="position:absolute;left:0;top:0"><path d="M2.3 5.5 L4.5 8.6 L8.5 1.5" fill="none" stroke="#3a4872" stroke-width="1.8" stroke-linejoin="miter" stroke-linecap="butt"/></svg></div>
<div class="lb" style="left:437.0px;top:646.5px;width:90px;height:16px;line-height:16px;font-size:10.3px;font-weight:normal;color:#000;letter-spacing:-0.2px;">THETA</div>
<div class="ed" style="left:512px;top:647px;width:86px;height:16px;line-height:14px;font-size:10.5px;text-align:center;">4.3</div>
<div class="cb" style="left:601px;top:649px"></div>
<div class="lb" style="left:437.0px;top:665.5px;width:90px;height:16px;line-height:16px;font-size:10.3px;font-weight:normal;color:#000;">CI</div>
<div class="ed" style="left:512px;top:666px;width:86px;height:16px;line-height:14px;font-size:10.5px;text-align:center;">3173.91</div>
<div class="cb" style="left:601px;top:668px"><svg width="13" height="13" viewBox="0 0 13 13" style="position:absolute;left:0;top:0"><path d="M2.3 5.5 L4.5 8.6 L8.5 1.5" fill="none" stroke="#3a4872" stroke-width="1.8" stroke-linejoin="miter" stroke-linecap="butt"/></svg></div>
<div class="lb" style="left:437.0px;top:683.5px;width:90px;height:16px;line-height:16px;font-size:10.3px;font-weight:normal;color:#000;">GG</div>
<div class="ed" style="left:512px;top:684px;width:86px;height:16px;line-height:14px;font-size:10.5px;text-align:center;">0.12245</div>
<div class="cb" style="left:601px;top:686px"><svg width="13" height="13" viewBox="0 0 13 13" style="position:absolute;left:0;top:0"><path d="M2.3 5.5 L4.5 8.6 L8.5 1.5" fill="none" stroke="#3a4872" stroke-width="1.8" stroke-linejoin="miter" stroke-linecap="butt"/></svg></div>
<div class="lb" style="left:437.0px;top:701.5px;width:90px;height:16px;line-height:16px;font-size:10.3px;font-weight:normal;color:#000;">AF</div>
<div class="ed" style="left:512px;top:702px;width:86px;height:16px;line-height:14px;font-size:10.5px;text-align:center;">450</div>
<div class="cb" style="left:601px;top:704px"><svg width="13" height="13" viewBox="0 0 13 13" style="position:absolute;left:0;top:0"><path d="M2.3 5.5 L4.5 8.6 L8.5 1.5" fill="none" stroke="#3a4872" stroke-width="1.8" stroke-linejoin="miter" stroke-linecap="butt"/></svg></div>
<div class="lb" style="left:437.0px;top:719.5px;width:90px;height:16px;line-height:16px;font-size:10.3px;font-weight:normal;color:#000;letter-spacing:-0.2px;">POREEXP</div>
<div class="ed" style="left:512px;top:720px;width:86px;height:16px;line-height:14px;font-size:10.5px;text-align:center;">0</div>
<div class="cb" style="left:601px;top:722px"><svg width="13" height="13" viewBox="0 0 13 13" style="position:absolute;left:0;top:0"><path d="M2.3 5.5 L4.5 8.6 L8.5 1.5" fill="none" stroke="#3a4872" stroke-width="1.8" stroke-linejoin="miter" stroke-linecap="butt"/></svg></div>
<div class="lb" style="left:619.0px;top:628.5px;width:90px;height:16px;line-height:16px;font-size:10.3px;font-weight:normal;color:#000;">AI</div>
<div class="ed" style="left:693px;top:629px;width:86px;height:16px;line-height:14px;font-size:10.5px;text-align:center;">0.5</div>
<div class="cb" style="left:783px;top:631px"><svg width="13" height="13" viewBox="0 0 13 13" style="position:absolute;left:0;top:0"><path d="M2.3 5.5 L4.5 8.6 L8.5 1.5" fill="none" stroke="#3a4872" stroke-width="1.8" stroke-linejoin="miter" stroke-linecap="butt"/></svg></div>
<div class="lb" style="left:619.0px;top:646.5px;width:90px;height:16px;line-height:16px;font-size:10.3px;font-weight:normal;color:#000;">TN</div>
<div class="ed" style="left:693px;top:647px;width:86px;height:16px;line-height:14px;font-size:10.5px;text-align:center;">7</div>
<div class="cb" style="left:783px;top:649px"><svg width="13" height="13" viewBox="0 0 13 13" style="position:absolute;left:0;top:0"><path d="M2.3 5.5 L4.5 8.6 L8.5 1.5" fill="none" stroke="#3a4872" stroke-width="1.8" stroke-linejoin="miter" stroke-linecap="butt"/></svg></div>
<div class="lb" style="left:619.0px;top:665.5px;width:90px;height:16px;line-height:16px;font-size:10.3px;font-weight:normal;color:#000;">CII</div>
<div class="ed" style="left:693px;top:666px;width:86px;height:16px;line-height:14px;font-size:10.5px;text-align:center;">0.001125</div>
<div class="cb" style="left:783px;top:668px"><svg width="13" height="13" viewBox="0 0 13 13" style="position:absolute;left:0;top:0"><path d="M2.3 5.5 L4.5 8.6 L8.5 1.5" fill="none" stroke="#3a4872" stroke-width="1.8" stroke-linejoin="miter" stroke-linecap="butt"/></svg></div>
<div class="lb" style="left:619.0px;top:683.5px;width:90px;height:16px;line-height:16px;font-size:10.3px;font-weight:normal;color:#000;letter-spacing:-0.2px;">CTDTH</div>
<div class="ed" style="left:693px;top:684px;width:86px;height:16px;line-height:14px;font-size:10.5px;text-align:center;">2.86e-09</div>
<div class="cb" style="left:783px;top:686px"><svg width="13" height="13" viewBox="0 0 13 13" style="position:absolute;left:0;top:0"><path d="M2.3 5.5 L4.5 8.6 L8.5 1.5" fill="none" stroke="#3a4872" stroke-width="1.8" stroke-linejoin="miter" stroke-linecap="butt"/></svg></div>
<div class="lb" style="left:619.0px;top:701.5px;width:90px;height:16px;line-height:16px;font-size:10.3px;font-weight:normal;color:#000;letter-spacing:-0.2px;">DCSEXP</div>
<div class="ed" style="left:693px;top:702px;width:86px;height:16px;line-height:14px;font-size:10.5px;text-align:center;">0</div>
<div class="cb" style="left:783px;top:704px"><svg width="13" height="13" viewBox="0 0 13 13" style="position:absolute;left:0;top:0"><path d="M2.3 5.5 L4.5 8.6 L8.5 1.5" fill="none" stroke="#3a4872" stroke-width="1.8" stroke-linejoin="miter" stroke-linecap="butt"/></svg></div>
<div class="lb" style="left:619.0px;top:719.5px;width:90px;height:16px;line-height:16px;font-size:10.3px;font-weight:normal;color:#000;letter-spacing:-0.2px;">GOEXP</div>
<div class="ed" style="left:694px;top:719px;width:86px;height:16px;line-height:14px;font-size:10.5px;text-align:center;">0</div>
<div class="cb" style="left:783px;top:722px"><svg width="13" height="13" viewBox="0 0 13 13" style="position:absolute;left:0;top:0"><path d="M2.3 5.5 L4.5 8.6 L8.5 1.5" fill="none" stroke="#3a4872" stroke-width="1.8" stroke-linejoin="miter" stroke-linecap="butt"/></svg></div>
<div class="ab" style="left:853.5px;top:611px;width:200px;text-align:center;font-size:11.6px;font-weight:bold;line-height:14px">Long crack parameters</div>
<div class="lb" style="left:855.6px;top:628.5px;width:90px;height:16px;line-height:16px;font-size:10.3px;font-weight:normal;color:#000;">PGCA</div>
<div class="ed" style="left:930px;top:629px;width:86px;height:16px;line-height:14px;font-size:10.5px;text-align:center;">5.78e-09</div>
<div class="cb" style="left:1020px;top:631px"><svg width="13" height="13" viewBox="0 0 13 13" style="position:absolute;left:0;top:0"><path d="M2.3 5.5 L4.5 8.6 L8.5 1.5" fill="none" stroke="#3a4872" stroke-width="1.8" stroke-linejoin="miter" stroke-linecap="butt"/></svg></div>
<div class="lb" style="left:855.6px;top:646.5px;width:90px;height:16px;line-height:16px;font-size:10.3px;font-weight:normal;color:#000;">PM</div>
<div class="ed" style="left:930px;top:647px;width:86px;height:16px;line-height:14px;font-size:10.5px;text-align:center;">3.76</div>
<div class="cb" style="left:1020px;top:649px"><svg width="13" height="13" viewBox="0 0 13 13" style="position:absolute;left:0;top:0"><path d="M2.3 5.5 L4.5 8.6 L8.5 1.5" fill="none" stroke="#3a4872" stroke-width="1.8" stroke-linejoin="miter" stroke-linecap="butt"/></svg></div>
<div class="lb" style="left:855.6px;top:665.5px;width:90px;height:16px;line-height:16px;font-size:10.3px;font-weight:normal;color:#000;">YGCF</div>
<div class="ed" style="left:930px;top:666px;width:86px;height:16px;line-height:14px;font-size:10.5px;text-align:center;">1</div>
<div class="cb" style="left:1020px;top:668px"><svg width="13" height="13" viewBox="0 0 13 13" style="position:absolute;left:0;top:0"><path d="M2.3 5.5 L4.5 8.6 L8.5 1.5" fill="none" stroke="#3a4872" stroke-width="1.8" stroke-linejoin="miter" stroke-linecap="butt"/></svg></div>
<div class="lb" style="left:855.6px;top:683.5px;width:90px;height:16px;line-height:16px;font-size:10.3px;font-weight:normal;color:#000;">A0</div>
<div class="ed" style="left:930px;top:684px;width:86px;height:16px;line-height:14px;font-size:10.5px;text-align:center;">450</div>
<div class="cb" style="left:1020px;top:686px"><svg width="13" height="13" viewBox="0 0 13 13" style="position:absolute;left:0;top:0"><path d="M2.3 5.5 L4.5 8.6 L8.5 1.5" fill="none" stroke="#3a4872" stroke-width="1.8" stroke-linejoin="miter" stroke-linecap="butt"/></svg></div>
<div class="lb" style="left:855.6px;top:701.5px;width:90px;height:16px;line-height:16px;font-size:10.3px;font-weight:normal;color:#000;">AC</div>
<div class="ed" style="left:930px;top:702px;width:86px;height:16px;line-height:14px;font-size:10.5px;text-align:center;">450</div>
<div class="cb" style="left:1020px;top:704px"><svg width="13" height="13" viewBox="0 0 13 13" style="position:absolute;left:0;top:0"><path d="M2.3 5.5 L4.5 8.6 L8.5 1.5" fill="none" stroke="#3a4872" stroke-width="1.8" stroke-linejoin="miter" stroke-linecap="butt"/></svg></div>
</body></html>
